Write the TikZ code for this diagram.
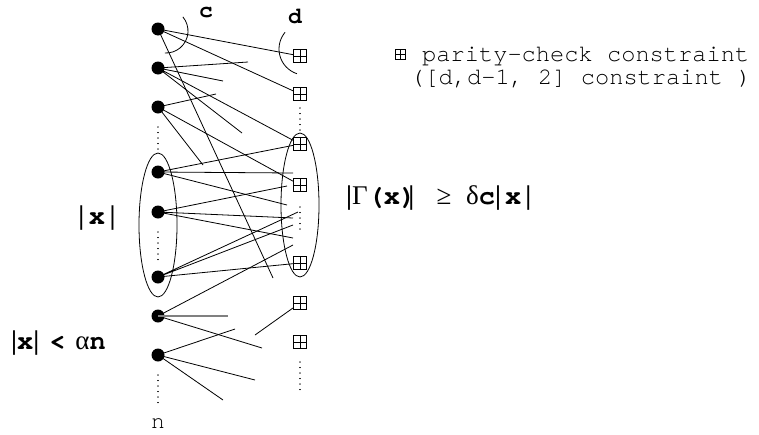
\documentclass[tikz,border=0pt]{standalone}
\usepackage{fontspec}
\setmainfont{Liberation Serif}
\newfontfamily\monof{TeX Gyre Cursor}
\usetikzlibrary{shapes.geometric}
\tikzset{
 var/.style={circle, fill=black, inner sep=0pt, minimum size=13pt},
 chk/.style={rectangle, draw, line width=0.7pt, inner sep=0pt, minimum size=13pt,
   path picture={\draw[line width=0.7pt] (path picture bounding box.north) -- (path picture bounding box.south)
     (path picture bounding box.west) -- (path picture bounding box.east);}},
 edge/.style={line width=0.8pt},
 grayedge/.style={line width=1.2pt, draw=black!50},
 dotcol/.style={line width=1.3pt, dash pattern=on 0.01pt off 5.5pt, line cap=round},
 grp/.style={ellipse, draw, line width=0.8pt, inner sep=0pt, minimum width=38pt, minimum height=144pt},
 bigb/.style={font=\monof\bfseries\fontsize{23}{23}\selectfont, inner sep=0pt, anchor=base},
 legend/.style={font=\monof\fontsize{23.7}{24}\selectfont, inner sep=0pt, anchor=base west},
 mathlbl/.style={font=\fontsize{27}{27}\selectfont, inner sep=0pt},
}
\newcommand{\bx}[1]{{\monof\bfseries #1}}
\newcommand{\bb}{\textbf{|}}
\begin{document}
\begin{tikzpicture}[x=1pt,y=-1pt]
\useasboundingbox (0,0) rectangle (759,434);
% variable nodes
\node[var] (v1) at (158,29) {};
\node[var] (v2) at (158,68) {};
\node[var] (v3) at (158,107) {};
\node[var] (v4) at (158,172) {};
\node[var] (v5) at (158,212) {};
\node[var] (v6) at (158,277) {};
\node[var] (v7) at (158,316) {};
\node[var] (v8) at (158,355) {};
% check nodes
\node[chk] (c1) at (300,56) {};
\node[chk] (c2) at (300,94) {};
\node[chk] (c3) at (300,144) {};
\node[chk] (c4) at (300,185) {};
\node[chk] (c5) at (300,263) {};
\node[chk] (c6) at (300,303) {};
\node[chk] (c7) at (300,342) {};
% groups
\node[grp] (E1) at (158,225) {};
\node[grp] (E2) at (300,205) {};
% dangling ends
\coordinate (a1) at (273,278);
\coordinate (b1) at (248,62);
\coordinate (b2) at (223,81);
\coordinate (b3) at (242,133);
\coordinate (d1) at (216,94);
\coordinate (d2) at (203,165);
\coordinate (e1) at (293,173);
\coordinate (e2) at (287,205);
\coordinate (f1) at (287,186);
\coordinate (f2) at (293,218);
\coordinate (f3) at (293,238);
\coordinate (g1) at (298,212);
\coordinate (g2) at (293,225);
\coordinate (h1) at (293,245);
\coordinate (h2) at (228,316);
\coordinate (h3) at (262,348);
\coordinate (k1) at (235,329);
\coordinate (k2) at (255,380);
\coordinate (k3) at (223,400);
\coordinate (m1) at (255,335);
% edges
\draw[edge] (v1.center) -- (c1) (v1.center) -- (c2) (v1.center) -- (a1);
\draw[edge] (v2.center) -- (b1) (v2.center) -- (b2) (v2.center) -- (b3) (v2.center) -- (c3);
\draw[edge] (v3.center) -- (d1) (v3.center) -- (d2) (v3.center) -- (c4);
\draw[edge] (v4.center) -- (c3) (v4.center) -- (e1) (v4.center) -- (e2);
\draw[edge] (v5.center) -- (f1) (v5.center) -- (f2) (v5.center) -- (f3);
\draw[edge] (v6.center) -- (g1) (v6.center) -- (g2) (v6.center) -- (c5);
\draw[edge] (v7.center) -- (h1) (v7.center) -- (h3);
\draw[grayedge] (v7.center) -- (h2);
\draw[edge] (v8.center) -- (k1) (v8.center) -- (k2) (v8.center) -- (k3);
\draw[edge] (c6) -- (m1);
% arcs
\draw[edge] (166,31) ++(-40:22) arc[start angle=-40, end angle=93, radius=22];
\draw[edge] (305,49) ++(108:26) arc[start angle=108, end angle=220, radius=26];
% dotted columns
\draw[dotcol] (158,127) -- (158,150);
\draw[dotcol] (158,232) -- (158,260);
\draw[dotcol] (158,375) -- (158,403);
\draw[dotcol] (300,108) -- (300,133);
\draw[dotcol] (300,207) -- (300,233);
\draw[dotcol] (300,362) -- (300,390);
% labels
\node[bigb] (lc) at (206,17) {c};
\node[bigb] (ld) at (295,23) {d};
\node[font=\monof\fontsize{23}{23}\selectfont, inner sep=0pt, anchor=base] (ln) at (158,428) {n};
\node[mathlbl, anchor=base] (lx) at (97,224) {\bb\,\bx{x}\,\bb};
\node[mathlbl, anchor=base west] (lxa) at (11,349) {\bb\bx{x}\bb\hspace{10pt}\bx{<}\hspace{10pt}α\bx{n}};
\node[mathlbl, anchor=base west] (lg1) at (346,204) {\bb Γ\bx{(x)}\kern-8pt\bb};
\node[mathlbl, anchor=base] (lge) at (444,204) {≥};
\node[mathlbl, anchor=base west] (lg2) at (466,204) {δ\bx{c}\bb\hspace{4pt}\bx{x}\hspace{4pt}\bb};
% legend
\node[chk, minimum size=10pt, line width=0.6pt] (lgs) at (400,54) {};
\node[legend] (l1) at (422,61) {parity-check constraint};
\node[legend] (l2) at (410,84) {([d,d-1, 2] constraint )};
\end{tikzpicture}
\end{document}
